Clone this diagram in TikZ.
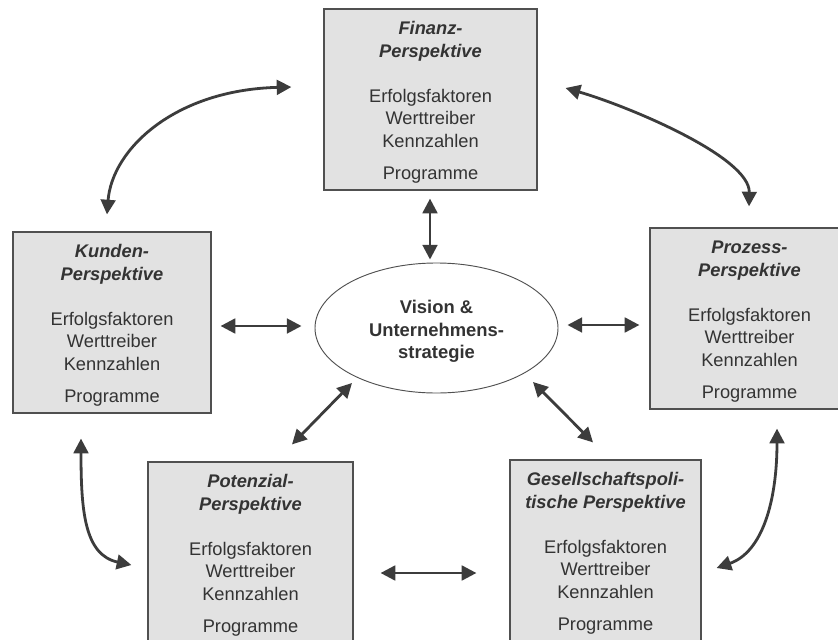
\documentclass[tikz,border=0pt]{standalone}
\usepackage{fontspec}
\setmainfont{Liberation Sans}
\usetikzlibrary{arrows.meta,shapes.geometric,calc}

\definecolor{ink}{HTML}{333333}
\definecolor{boxfill}{HTML}{E2E2E2}
\definecolor{boxline}{HTML}{505050}
\definecolor{arrowgray}{HTML}{3C3C3C}

\tikzset{
  persp/.style={rectangle, draw=boxline, line width=0.9pt, fill=boxfill,
    inner sep=0pt, minimum height=135.75pt, align=center, text=ink,
    font=\fontsize{13.7}{16.9}\selectfont},
  core/.style={ellipse, draw=boxline, line width=0.7pt, fill=white,
    inner sep=0pt, minimum width=182.25pt, minimum height=97.5pt,
    align=center, text=ink, font=\fontsize{13.8}{16.9}\selectfont\bfseries},
  tip/.tip={Triangle[length=11pt,width=11pt]},
  dar/.style={draw=arrowgray, line width=2.1pt, tip-tip},
}
% title line of a perspective box; the strut keeps the block's top edge fixed
\newcommand\ptitle[1]{\rule{0pt}{13.8pt}\textbf{\textit{#1}}}
\newcommand\psub[1]{\textbf{\textit{#1}}}
\newcommand\pitems{Erfolgsfaktoren\\Werttreiber\\Kennzahlen\\[7pt]Programme}

\begin{document}
\begin{tikzpicture}[x=0.75pt,y=-0.75pt]
  \clip (0,0) rectangle (838,639);
  \fill[white] (0,0) rectangle (838,639);

  % perspectives
  \node[persp, minimum width=159.75pt] (fin) at (430.5,99.5)
    {\ptitle{Finanz-}\\\psub{Perspektive}\\[16.9pt]\pitems};
  \node[persp, minimum width=148.5pt] (kun) at (112,322.5)
    {\ptitle{Kunden-}\\\psub{Perspektive}\\[16.9pt]\pitems};
  \node[persp, minimum width=149.25pt] (pro) at (749.5,318.5)
    {\ptitle{Prozess-}\\\psub{Perspektive}\\[16.9pt]\pitems};
  \node[persp, minimum width=153.75pt] (pot) at (250.5,552.5)
    {\ptitle{Potenzial-}\\\psub{Perspektive}\\[16.9pt]\pitems};
  \node[persp, minimum width=143.25pt] (ges) at (605.5,550.5)
    {\ptitle{Gesellschaftspoli-}\\\psub{tische Perspektive}\\[16.9pt]\pitems};

  % centre
  \node[core] (vis) at (436.5,328)
    {\rule{0pt}{15.3pt}Vision \&\\Unternehmens-\\strategie};

  % straight links to the centre and between the lower boxes
  \draw[dar] ($(fin.south)+(-0.5,8)$) -- ($(fin.south |- vis.north)+(-0.5,-3)$);
  \draw[dar] ($(kun.east)+(9,3.5)$) -- ($(vis.west)+(-13,-2)$);
  \draw[dar] ($(vis.east)+(9,-3)$) -- ($(pro.west)+(-10,6.5)$);
  \draw[dar] ($(vis.center)+(-84.5,55)$) -- ($(pot.north)+(41.5,-17)$);
  \draw[dar] ($(vis.center)+(96.5,54)$) -- ($(ges.north)+(-12.5,-17)$);
  \draw[dar] ($(pot.east)+(27,20.5)$) -- ($(ges.west)+(-33,22.5)$);

  % curved links around the outside
  \coordinate (a1) at ($(kun.north)+(-5,-17)$);
  \coordinate (a2) at ($(fin.west)+(-32,-12.5)$);
  \draw[dar] (a1) .. controls +(5,-65) and +(-117,3) .. (a2);

  \coordinate (b1) at ($(fin.east)+(28,-11.5)$);
  \coordinate (b2) at ($(pro.north)+(-0.5,-21)$);
  \draw[dar] (b1) .. controls +(65,19) and +(1,-49) .. (b2);

  \coordinate (c1) at ($(kun.south)+(-31,25)$);
  \coordinate (c2) at ($(pot.west)+(-16,12.5)$);
  \draw[dar] (c1) .. controls +(0,72) and +(-47,-10) .. (c2);

  \coordinate (d1) at ($(pro.south)+(27.5,19)$);
  \coordinate (d2) at ($(ges.east)+(15,17.5)$);
  \draw[dar] (d1) .. controls +(0,72) and +(46,-16) .. (d2);
\end{tikzpicture}
\end{document}
